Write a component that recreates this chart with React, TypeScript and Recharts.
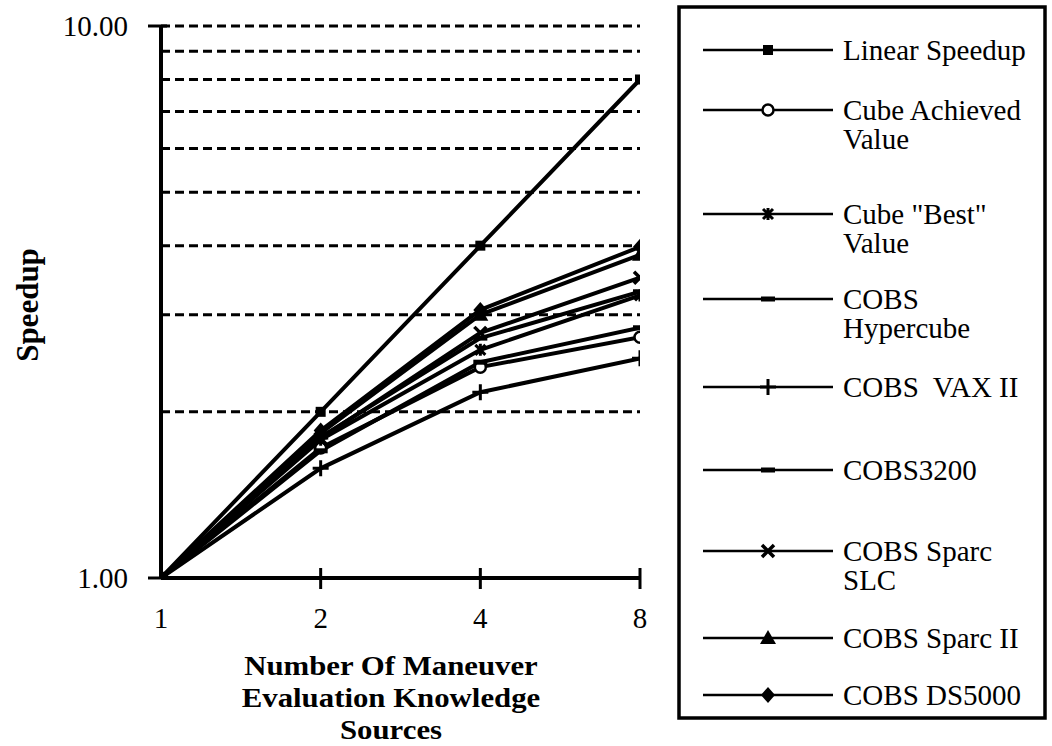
import { LineChart, Line, XAxis, YAxis, ReferenceLine } from "recharts";

const SOURCES = [1, 2, 4, 8];
const LINEAR_SPEEDUP = [1, 2, 4, 8];
const CUBE_ACHIEVED = [1, 1.72, 2.41, 2.73];
const CUBE_BEST = [1, 1.78, 2.59, 3.25];
const COBS_HYPERCUBE = [1, 1.7, 2.46, 2.84];
const COBS_VAX = [1, 1.58, 2.17, 2.5];
const COBS_3200 = [1, 1.8, 2.72, 3.3];
const COBS_SPARC_SLC = [1, 1.79, 2.78, 3.5];
const COBS_SPARC_II = [1, 1.83, 3.0, 3.85];
const COBS_DS5000 = [1, 1.85, 3.06, 3.98];

const Y_TICKS = [1, 10];
const GRID_VALUES = [2, 3, 4, 5, 6, 7, 8, 9, 10];
const X_TITLE = ["Number Of Maneuver", "Evaluation Knowledge", "Sources"];

const SERIES = [
  { key: "linear", name: ["Linear Speedup"], marker: "square", values: LINEAR_SPEEDUP },
  { key: "achieved", name: ["Cube Achieved", "Value"], marker: "circle", values: CUBE_ACHIEVED },
  { key: "best", name: ['Cube "Best"', "Value"], marker: "asterisk", values: CUBE_BEST },
  { key: "hypercube", name: ["COBS", "Hypercube"], marker: "dash", values: COBS_HYPERCUBE },
  { key: "vax", name: ["COBS  VAX II"], marker: "plus", values: COBS_VAX },
  { key: "c3200", name: ["COBS3200"], marker: "dash", values: COBS_3200 },
  { key: "slc", name: ["COBS Sparc", "SLC"], marker: "cross", values: COBS_SPARC_SLC },
  { key: "sparc2", name: ["COBS Sparc II"], marker: "triangle", values: COBS_SPARC_II },
  { key: "ds5000", name: ["COBS DS5000"], marker: "diamond", values: COBS_DS5000 },
];

const data = SOURCES.map((n, i) => {
  const row: any = { n };
  SERIES.forEach((s) => (row[s.key] = s.values[i]));
  return row;
});

const FONT = "'Liberation Serif', 'Times New Roman', serif";
const LEGEND_ROWS = [50, 110, 214, 299, 387, 470, 551, 638, 695];

const Marker = ({ kind, cx, cy }: any) => {
  switch (kind) {
    case "square":
      return <rect x={cx - 5} y={cy - 5} width={10} height={10} fill="#000" />;
    case "circle":
      return <circle cx={cx} cy={cy} r={5.5} fill="#fff" stroke="#000" strokeWidth={2.5} />;
    case "asterisk":
      return (
        <path
          d={`M${cx - 5},${cy - 5}L${cx + 5},${cy + 5}M${cx + 5},${cy - 5}L${cx - 5},${cy + 5}M${cx},${cy - 6}L${cx},${cy + 6}`}
          stroke="#000"
          strokeWidth={3}
        />
      );
    case "dash":
      return <rect x={cx - 7} y={cy - 2.5} width={14} height={5} fill="#000" />;
    case "plus":
      return (
        <path d={`M${cx - 8},${cy}L${cx + 8},${cy}M${cx},${cy - 8}L${cx},${cy + 8}`} stroke="#000" strokeWidth={3} />
      );
    case "cross":
      return (
        <path
          d={`M${cx - 6},${cy - 6}L${cx + 6},${cy + 6}M${cx + 6},${cy - 6}L${cx - 6},${cy + 6}`}
          stroke="#000"
          strokeWidth={3.5}
        />
      );
    case "triangle":
      return <polygon points={`${cx},${cy - 8} ${cx + 8},${cy + 6} ${cx - 8},${cy + 6}`} fill="#000" />;
    case "diamond":
      return <polygon points={`${cx},${cy - 8} ${cx + 7},${cy} ${cx},${cy + 8} ${cx - 7},${cy}`} fill="#000" />;
    default:
      return null;
  }
};

const makeDot = (kind: string) => (props: any) =>
  <Marker key={`${kind}-${props.index}`} kind={kind} cx={props.cx} cy={props.cy} />;

const YTick = ({ x, y, payload }: any) => (
  <g>
    <line x1={x - 13} x2={x + 6} y1={y} y2={y} stroke="#000" strokeWidth={3} />
    <text x={x - 33} y={y} textAnchor="end" dominantBaseline="central" fontSize={29} fontFamily={FONT} fill="#000">
      {Number(payload.value).toFixed(2)}
    </text>
  </g>
);

const XTick = ({ x, y, payload }: any) => (
  <g>
    {payload.value !== 1 && <line x1={x} x2={x} y1={y - 10} y2={y + 11} stroke="#000" strokeWidth={3} />}
    <text x={x} y={y + 40} textAnchor="middle" dominantBaseline="central" fontSize={29} fontFamily={FONT} fill="#000">
      {payload.value}
    </text>
  </g>
);

const Overlay = () => (
  <svg width={1052} height={746} style={{ position: "absolute", left: 0, top: 0, pointerEvents: "none" }}>
    <text
      transform="translate(27,305) rotate(-90)"
      textAnchor="middle"
      dominantBaseline="central"
      fontSize={31}
      fontWeight="bold"
      fontFamily={FONT}
    >
      Speedup
    </text>
    {X_TITLE.map((t, i) => (
      <text
        key={t}
        transform={`translate(391,${665 + i * 32}) scale(1.1,1)`}
        textAnchor="middle"
        dominantBaseline="central"
        fontSize={28}
        fontWeight="bold"
        fontFamily={FONT}
      >
        {t}
      </text>
    ))}
    <rect x={679} y={7} width={366} height={711} fill="none" stroke="#000" strokeWidth={3.5} />
    {SERIES.map((s, i) => {
      const y = LEGEND_ROWS[i];
      return (
        <g key={s.key}>
          <line x1={703} x2={833} y1={y} y2={y} stroke="#000" strokeWidth={2.5} />
          <Marker kind={s.marker} cx={768} cy={y} />
          {s.name.map((t, j) => (
            <text
              key={j}
              x={843}
              y={y + j * 29}
              dominantBaseline="central"
              fontSize={29}
              fontFamily={FONT}
              style={{ whiteSpace: "pre" }}
            >
              {t}
            </text>
          ))}
        </g>
      );
    })}
  </svg>
);

export default function App() {
  return (
    <div style={{ position: "absolute", left: 0, top: 0, width: 1052, height: 746, background: "#fff" }}>
      <LineChart
        width={1052}
        height={746}
        data={data}
        margin={{ top: 26, right: 412, bottom: 108, left: 101 }}
      >
        {GRID_VALUES.map((v) => (
          <ReferenceLine key={v} y={v} stroke="#000" strokeWidth={3} strokeDasharray="9 5" />
        ))}
        <XAxis
          dataKey="n"
          type="number"
          scale="log"
          domain={[1, 8]}
          ticks={SOURCES}
          height={60}
          tickSize={0}
          tickMargin={0}
          tickLine={false}
          axisLine={{ stroke: "#000", strokeWidth: 4 }}
          tick={<XTick />}
          allowDataOverflow
        />
        <YAxis
          type="number"
          scale="log"
          domain={[1, 10]}
          ticks={Y_TICKS}
          width={60}
          tickSize={0}
          tickMargin={0}
          tickLine={false}
          axisLine={{ stroke: "#000", strokeWidth: 4 }}
          tick={<YTick />}
          allowDataOverflow
        />
        {SERIES.map((s) => (
          <Line
            key={s.key}
            dataKey={s.key}
            type="linear"
            stroke="#000"
            strokeWidth={4}
            dot={makeDot(s.marker)}
            activeDot={false}
            isAnimationActive={false}
          />
        ))}
      </LineChart>
      <Overlay />
    </div>
  );
}
